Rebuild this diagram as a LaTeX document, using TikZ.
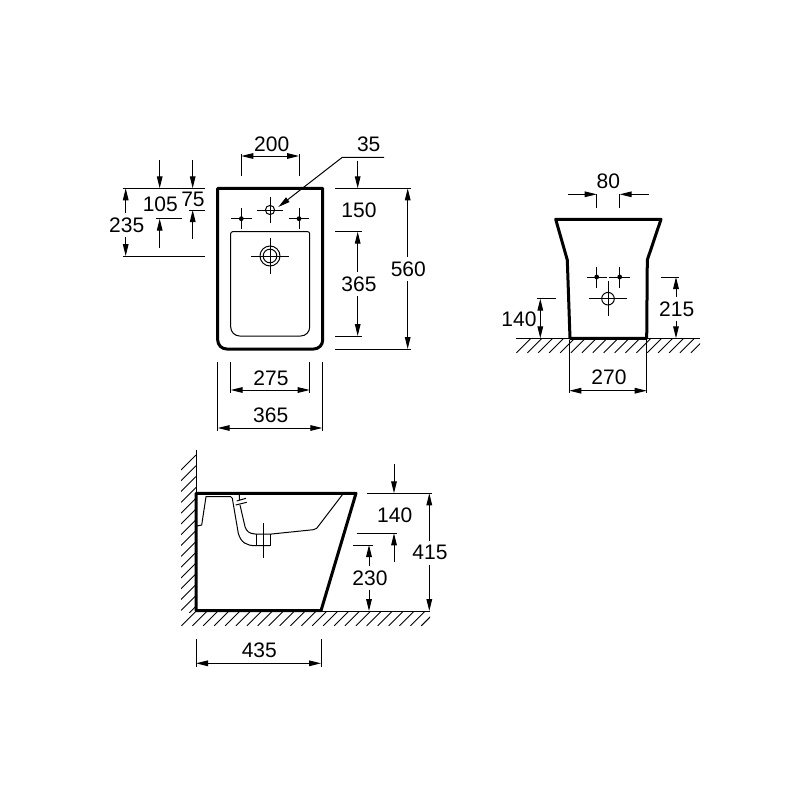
\documentclass[tikz,border=0pt]{standalone}
\usepackage{fontspec}
\setmainfont{Liberation Sans}
\usetikzlibrary{arrows.meta}
\tikzset{
  thin line/.style={line width=1pt,black},
  body/.style={line width=3pt,black,line join=round,line cap=round},
  inner line/.style={line width=1pt,black,line join=round},
  dimarrow/.style={thin line,{Stealth[inset=0pt,length=12pt,width=5.6pt]}-{Stealth[inset=0pt,length=12pt,width=5.6pt]}},
  onearrow/.style={thin line,-{Stealth[inset=0pt,length=12pt,width=5.6pt]}},
  hatchline/.style={line width=0.9pt,black},
  lab/.style={font=\fontsize{21}{21}\selectfont,inner sep=0pt,text=black},
  gaplab/.style={lab,fill=white,inner xsep=1pt,inner ysep=4.5pt}
}
\begin{document}
\begin{tikzpicture}[x=1pt,y=-1pt]
\useasboundingbox[fill=white] (0,0) rectangle (800,800);

% ---------- front (top) view ----------
\draw[body] (217.7,188.3) -- (322.7,188.3) -- (322.7,340) arc[start angle=0,end angle=90,radius=9] -- (226.7,349) arc[start angle=90,end angle=180,radius=9] -- cycle;
\draw[inner line] (232.7,231.7) -- (307.7,231.7) arc[start angle=-90,end angle=0,radius=2] -- (309.7,327) arc[start angle=0,end angle=90,radius=9] -- (239.7,336) arc[start angle=90,end angle=180,radius=9] -- (230.7,233.7) arc[start angle=180,end angle=270,radius=2] -- cycle;
% holes
\draw[inner line] (270,210) circle[radius=4.6];
\draw[thin line] (257,210) -- (283,210) (270,197) -- (270,223);
\fill (241.3,218.7) circle[radius=2.4];
\draw[thin line] (231,218.7) -- (251.7,218.7) (241.3,208) -- (241.3,229);
\fill (299,218.7) circle[radius=2.4];
\draw[thin line] (288.7,218.7) -- (309,218.7) (299,208) -- (299,229);
\draw[inner line] (270,256) circle[radius=10] (270,256) circle[radius=6.8];
\draw[thin line] (251,256) -- (289,256) (270,238) -- (270,274);

% 200
\draw[thin line] (241.3,154) -- (241.3,176) (299,154) -- (299,176);
\draw[dimarrow] (241.3,156) -- (299,156);
\node[lab] (t200) at (271.7,144) {200};
% 35
\draw[onearrow] (384,157.3) -- (342.3,157.3) -- (278.3,207);
\node[lab] (t35) at (368.7,144) {35};
% 150
\draw[onearrow] (357.7,160.7) -- (357.7,188.3);
\draw[thin line] (335,188.3) -- (410.7,188.3);
\node[lab] (t150) at (359,210) {150};
% 365 right
\draw[thin line] (335,231.7) -- (361.7,231.7) (335,336) -- (361.7,336);
\draw[dimarrow] (357.7,231.7) -- (357.7,336);
\node[gaplab] (t365a) at (359,284) {365};
% 560
\draw[thin line] (335,349) -- (410.7,349);
\draw[dimarrow] (407.7,188.3) -- (407.7,349);
\node[gaplab] (t560) at (408.3,269.3) {560};
% 235
\draw[thin line] (122.7,188.3) -- (205.3,188.3) (122.7,256) -- (205.3,256);
\draw[dimarrow] (125.7,188.3) -- (125.7,256);
\node[gaplab] (t235) at (126.7,225) {235};
% 105
\draw[onearrow] (159.7,160) -- (159.7,188.3);
\draw[onearrow] (159.7,247.7) -- (159.7,218.7);
\draw[thin line] (156,218.7) -- (181.7,218.7);
\node[lab] (t105) at (160.3,204) {105};
% 75
\draw[onearrow] (192.7,160) -- (192.7,188.3);
\draw[onearrow] (192.7,239) -- (192.7,210);
\draw[thin line] (189.3,210) -- (205.3,210);
\node[lab] (t75) at (193,199) {75};
% 275
\draw[thin line] (230.7,361.7) -- (230.7,393.3) (309.7,361.7) -- (309.7,393.3);
\draw[dimarrow] (230.7,390) -- (309.7,390);
\node[lab] (t275) at (271,378.3) {275};
% 365 bottom
\draw[thin line] (217.7,361.7) -- (217.7,431) (322.3,361.7) -- (322.3,431);
\draw[dimarrow] (217.7,428) -- (322.3,428);
\node[lab] (t365b) at (270.7,415) {365};

% ---------- rear view ----------
\draw[thin line] (516,338.3) -- (700,338.3);
\begin{scope}
\clip (516,338) rectangle (700,354);
\foreach \h in {0,...,17} \draw[hatchline] ({531+10.9*\h},338.3) -- ({531+10.9*\h-14.5},352.8);
\end{scope}
\draw[body] (570,338.3) -- (567.3,260) -- (555.7,219.3) -- (661,219.3) -- (647.3,260) -- (646.7,338.3) -- cycle;
\draw[thin line] (596.7,266.7) -- (596.7,287.7) (586.7,277) -- (606.7,277);
\fill (596.7,277) circle[radius=2.4];
\draw[thin line] (619.7,266.7) -- (619.7,287.7) (609.3,277) -- (630,277);
\fill (619.7,277) circle[radius=2.4];
\draw[inner line] (608,298.7) circle[radius=6.3];
\draw[thin line] (589.3,298.7) -- (627,298.7) (608,281) -- (608,316);
% 80
\draw[thin line] (596.7,194.3) -- (596.7,207.7) (619.7,194.3) -- (619.7,207.7);
\draw[onearrow] (568.3,194.3) -- (596.7,194.3);
\draw[onearrow] (649,194.3) -- (619.7,194.3);
\node[lab] (t80) at (608.3,181.7) {80};
% 140
\draw[thin line] (536.7,298.7) -- (556,298.7);
\draw[dimarrow] (540.3,298.7) -- (540.3,338.3);
\node[lab] (t140a) at (519,319) {140};
% 215
\draw[thin line] (661,277) -- (679,277);
\draw[dimarrow] (676,277) -- (676,338.3);
\node[gaplab] (t215) at (676.7,309) {215};
% 270
\draw[thin line] (569.3,340) -- (569.3,393) (646.7,340) -- (646.7,393);
\draw[dimarrow] (569.3,390.7) -- (646.7,390.7);
\node[lab] (t270) at (609,377) {270};

% ---------- side view ----------
\draw[thin line] (196,450) -- (196,611) -- (430,611);
\begin{scope}
\clip (181,450) rectangle (196,612);
\foreach \h in {0,...,15} \draw[hatchline] (196,{455+10.8*\h}) -- (181,{470+10.8*\h});
\end{scope}
\begin{scope}
\clip (181,611) rectangle (430,626);
\foreach \h in {0,...,22} \draw[hatchline] ({196+10.9*\h},611.3) -- ({196+10.9*\h-14.5},625.8);
\end{scope}
\draw[body] (196,493.3) -- (356,493.3) -- (321,610.7) -- (196,610.7) -- cycle;
% inner profile
\draw[inner line] (197,526) -- (201.7,525) -- (206,496.7) -- (230.7,496.7) -- (232.3,498.3) -- (238.3,533.3) .. controls (241,543) and (247,545.5) .. (255,545.7) -- (270,545.7);
\draw[inner line] (239.2,494.3) -- (239.5,500);
\draw[inner line] (236.7,501) -- (246,498.3) (235.7,505) -- (246.7,502.3);
\draw[inner line] (240,505) -- (245,526.7) .. controls (246.5,531) and (249,533.7) .. (255,534) -- (271.7,534) -- (313.3,529.7) -- (316.7,528.3) -- (342.7,494.3);
\draw[inner line] (256.7,534) -- (256.7,545.7) (270,534) -- (270,545.7);
\draw[thin line] (263.2,523) -- (263.2,558);
% 140
\draw[onearrow] (394,464.3) -- (394,493.3);
\draw[thin line] (366.7,493.3) -- (432.3,493.3);
\draw[thin line] (356.7,533.3) -- (397.3,533.3);
\draw[onearrow] (394,561.7) -- (394,533.3);
\node[lab] (t140b) at (394.7,515) {140};
% 415
\draw[dimarrow] (429.3,493.3) -- (429.3,611);
\node[gaplab] (t415) at (430,552.7) {415};
% 230
\draw[thin line] (353.3,545) -- (372.7,545);
\draw[dimarrow] (369,545) -- (369,611);
\node[gaplab] (t230) at (370,578.3) {230};
% 435
\draw[thin line] (196,639) -- (196,666.7) (321,639) -- (321,666.7);
\draw[dimarrow] (196,663.3) -- (321,663.3);
\node[lab] (t435) at (259.3,650.7) {435};
\end{tikzpicture}
\end{document}
